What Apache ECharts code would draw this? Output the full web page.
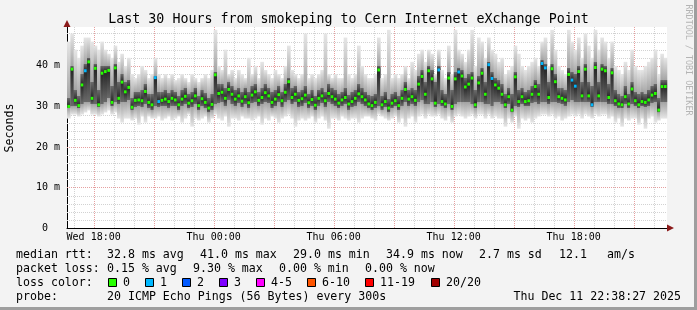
<!DOCTYPE html>
<html><head><meta charset="utf-8">
<script src="https://cdn.jsdelivr.net/npm/echarts@6/dist/echarts.min.js"></script>
<style>html,body{margin:0;padding:0;background:#f3f3f3}#c{width:697px;height:310px}</style>
</head><body><div id="c"></div>
<script>
// time axis in minutes since Wed 00:00
const T_START = 1000;   // Wed 16:40
const T_END = 2800;     // Thu 22:40
const STEP = 10;        // minutes per sample
const xLabelValues = [1080, 1440, 1800, 2160, 2520];
const xLabelTexts = ['Wed 18:00', 'Thu 00:00', 'Thu 06:00', 'Thu 12:00', 'Thu 18:00'];
const yLabelValues = [0, 10, 20, 30, 40];
const yLabelTexts = ['0  ', '10 m', '20 m', '30 m', '40 m'];
const Y_MAX = 49.6;

// median rtt (ms)
const median = [
30.0,39.2,31.5,30.2,35.3,38.8,41.0,32.0,39.4,30.4,
38.2,38.6,38.9,31.0,39.5,32.0,36.0,33.6,34.7,29.8,
31.5,31.6,31.4,33.7,31.0,30.4,37.1,31.2,31.5,31.8,
31.2,32.0,31.6,30.4,31.8,32.5,30.8,31.4,32.6,30.2,
31.9,31.0,29.6,30.5,37.8,33.2,33.5,32.0,34.2,33.0,
31.8,32.6,31.3,32.4,30.9,32.8,33.6,31.5,32.2,33.4,
32.6,31.0,31.8,32.9,31.4,33.5,36.1,32.2,33.0,31.5,
31.9,32.8,30.9,31.7,30.3,32.0,32.6,31.4,33.2,32.4,
31.8,30.8,31.6,32.2,30.6,31.2,32.0,33.1,32.4,31.6,
30.6,30.2,31.0,39.0,30.4,31.2,29.6,30.8,31.4,30.2,
32.0,34.2,31.8,32.4,31.5,35.5,37.4,33.0,38.8,36.8,
30.8,39.0,31.2,30.6,37.0,30.0,36.8,38.5,37.5,34.8,
35.5,37.0,30.4,35.8,38.2,33.0,40.3,36.9,35.3,34.5,
33.0,30.4,32.4,29.1,37.3,31.2,32.4,31.2,31.4,33.0,
34.9,33.0,40.6,39.5,32.2,39.3,36.1,32.4,32.0,31.6,
37.9,36.5,35.0,38.6,32.6,39.2,32.6,30.4,39.6,32.6,
39.2,38.8,32.2,38.3,31.4,30.6,30.4,32.4,30.6,34.3,
31.4,30.4,31.2,31.0,31.6,32.8,33.2,29.1,34.9,34.9];

// smoke: highest / lowest ping (ms)
const smokeHi = [
46,48,44,42,45,47,47,46,45,44,
46,44,43,42,45,41,43,40,42,38,
37,38,40,39,37,38,42,38,37,38,
37,38,36.5,37,38,37,36,38,37,36,
37,38,37,39,48.9,40,39,44,38,39,
37,39,38,37,42,38,40,37,41,39,
38,37,39,38,37,40,45,39,38,37,
38,48,37,38,37,38,39,48,38,37,
38,37,37,47,38,37,38,45,40,38,
37,37,38,47,37,38,48.9,37,38,37,
38,40,37,41,39,43,44,41,44,43,
38,44,39,37,45,38,48.9,44,43,41,
44,48.9,40,47,46,42,47,44,43,41,
42,38,39,40,45,43,40,39,40,41,
42,40,46,47,40,48.9,44,40,39,38,
48.9,46,44,47,42,48,45,42,48.9,44,
47,46,42,46,40,39,38,41,39,44,
40,39,39,40,41,42,44,38,43,42];
const smokeLo = [
27,28,28,27.5,28,28.5,29,28,28,27.5,
28,28.5,29,28,28.5,27,26,27,27,26.5,
27,25.5,27.5,26,27.5,27,27,27.5,26.5,27,
27.5,26.5,27,27.5,26,27,28,25,27,26.5,
27,27.5,26,27,28,27,26.5,27.5,25,27,
27,26.5,27.5,27,27,26.5,27,27.5,25.5,27,
26.5,27.5,27,26,27,27.5,28,27,25,26.5,
27,26.5,27,27.5,26,27,27.5,26.5,24.5,27,
27,26.5,27.5,27,26.5,27,27,26,27,27.5,
27.5,27,26.5,28,27.5,27,26.5,27,27.5,26,
27,25,27,27.5,26,27.5,28,27,28,27.5,
27.5,28,27,26.5,27.5,26,27.5,28,27.5,27,
27.5,28,27,28,28,27,28,27,27.5,27,
27,25,27,26,27.5,24.5,27,26.5,27,26,
27,27.5,28,28,27.5,28,27,27.5,26.5,27,
27.5,28,27.5,28,27,28,27.5,27,28,27.5,
28,28,27,27.5,26,27,25,27,26.5,27,
27,25.5,27,24.5,27,27.5,26,26.5,27,27];
// dense inner part of the smoke (ms)
const innerLo = [
29.5,30,30,29.5,30.5,31,31,30.5,30.5,29.8,
30.5,31,32,30,31,30.5,31,31,31.5,29,
29.8,30,29.8,30.5,29.5,29,30,29.8,30,30,
29.6,30.2,30,29,30,30.5,29.5,29.8,30.5,29,
30,29.5,28.5,29,30.5,30.8,31,30.2,31.5,30.5,
30,30.8,29.8,30.5,29.5,30.8,31,30,30.5,31,
30.8,29.5,30,31,29.8,31,31.5,30.5,31,29.8,
30,30.8,29.5,30,29,30.2,30.8,29.8,31,30.5,
30,29.5,30,30.5,29.2,29.8,30.2,31,30.5,30,
29.5,29,29.6,30,29.2,29.8,28.5,29.5,30,29,
30.2,31,30,30.5,30,31,31.5,30.5,30.5,31,
29.8,30.5,30,29.5,30.5,29,30.5,31,31,31,
31,30.5,29.5,31,31,30.5,30.5,30,31,31,
30.5,29.5,30.5,28.5,30,29.8,30.5,30,30,30.8,
31,30.5,31,31,30.5,31,31,30.8,30.5,30.2,
31,31.5,31,31,31,31,31,29.8,31,31,
31,31,30.5,30.5,30,29.6,29.5,30.5,29.6,30.5,
30,29.5,30,29.8,30,30.8,31,28.5,31,31];
const innerHi = [
32,40,34,32.5,38,40.5,42,36,40.5,34,
40,40,40,35,40.5,36,38,36,36.5,32,
33.5,33.5,34,35.5,33,33,37.5,33.5,33.5,34,
33.2,34,33.5,32.5,34,34.5,33,33.5,34.5,32.5,
34,33.2,32,33,38.5,35.5,35.5,34.5,36,35,
34,34.5,33.5,34.5,33.5,35,35.5,33.5,34.5,35.5,
34.5,33.5,34,35,33.5,35.5,37,34.5,35,33.5,
34,35,33,34,32.5,34,34.5,33.5,35.5,34.5,
34,33,33.5,34.5,32.8,33.5,34,35.5,34.5,33.5,
32.8,32.5,33,40,32.5,33.5,31.8,33,33.5,32.5,
34,36,34,34.5,34,37.5,39,36,40,39,
36,40,34,33,38.5,34,38.5,39.5,39,37,
38,38.5,34,37.5,39.5,36,41,38.5,37,36.5,
35.5,33,34.5,33,38.5,34,34.5,33.5,34,35,
36.5,35.5,41.5,40.5,36,40.5,38,34.5,34.5,34,
39.5,38.5,38,40,36,40.5,36,35,41,36,
40.5,40,35.5,39.5,34,33,32.5,35,33,36,
33.5,33,33.5,33,34,35,35.5,32,36.5,36.5];
// samples that lost 1 of 20 pings
const loss1Samples = [5, 26, 27, 111, 117, 126, 127, 142, 143, 151, 152, 157];

const lossLabels = ['0', '1', '2', '3', '4-5', '6-10', '11-19', '20/20'];
const lossColors = ['#26ff00', '#00b8ff', '#0059ff', '#7e00ff', '#ff00ff', '#ff5500', '#ff0000', '#a10000'];

const titleText = 'Last 30 Hours from smokeping to Cern Internet eXchange Point';
const legendRows = [
  ['median rtt:', '32.8 ms avg', '41.0 ms max', '29.0 ms min', '34.9 ms now', '2.7 ms sd', '12.1', 'am/s'],
  ['packet loss:', '0.15 % avg', '9.30 % max', '0.00 % min', '0.00 % now'],
  ['loss color:'],
  ['probe:', '20 ICMP Echo Pings (56 Bytes) every 300s']
];
const stampText = 'Thu Dec 11 22:38:27 2025';

// layout (pixels)
const MONO = '"DejaVu Sans Mono", monospace';
const G = { left: 67, right: 30, top: 27, bottom: 82 };
const W = 697, H = 310;
const plotR = W - G.right, plotB = H - G.bottom;
const legendX = [
  [16, 107, 200, 293, 386, 479, 559, 607],
  [16, 107, 193, 279, 365],
  [16],
  [16, 107]
];
const legendY = [254.5, 268.5, 282.5, 296.5];
const boxX = [108.5, 145.5, 182.5, 219.5, 256.5, 307.5, 365.5, 431.5];

// grid tick values
const hourTicks = [];
for (let t = Math.ceil(T_START / 60) * 60; t < T_END; t += 60) hourTicks.push(t);
const msTicks = [];
for (let v = 2; v < Y_MAX; v += 2) msTicks.push(v);

const smokeData = median.map((m, i) => [T_START + i * STEP, smokeLo[i], smokeHi[i], innerLo[i], innerHi[i], m]);
const medData = median.map((m, i) => [T_START + i * STEP, m, loss1Samples.indexOf(i) >= 0 ? 1 : 0]);

function vGrid(params, api) {
  const cs = params.coordSys;
  const t = api.value(0);
  const x = Math.round(api.coord([t, 0])[0]) + 0.5;
  const major = (t / 60) % 3 === 0;
  return { type: 'line', shape: { x1: x, y1: cs.y, x2: x, y2: cs.y + cs.height },
    style: { stroke: major ? '#e6a0a0' : '#d2d2d2', lineWidth: 1, lineDash: [1, 1] }, silent: true };
}
function hGrid(params, api) {
  const cs = params.coordSys;
  const v = api.value(1);
  const y = Math.round(api.coord([T_START, v])[1]) + 0.5;
  const major = v % 10 === 0;
  return { type: 'line', shape: { x1: cs.x, y1: y, x2: cs.x + cs.width, y2: y },
    style: { stroke: major ? '#e6a0a0' : '#d2d2d2', lineWidth: 1, lineDash: [1, 1] }, silent: true };
}
function clamp01(v) { return Math.max(0, Math.min(1, v)); }
function smokeItem(params, api) {
  const t = api.value(0);
  const xa = api.coord([t, 0])[0], xb = api.coord([t + STEP, 0])[0];
  const yLo = api.coord([t, api.value(1)])[1];
  const yHi = api.coord([t, api.value(2)])[1];
  const yILo = api.coord([t, api.value(3)])[1];
  const yIHi = api.coord([t, api.value(4)])[1];
  const yMed = api.coord([t, api.value(5)])[1];
  const h = yLo - yHi;
  const o1 = clamp01((yIHi - yHi) / h);
  const o2 = clamp01((yILo - yHi) / h);
  const om = clamp01((yMed - yHi) / h);
  return { type: 'rect', shape: { x: xa, y: yHi, width: xb - xa + 0.3, height: h },
    style: { fill: new echarts.graphic.LinearGradient(0, 0, 0, 1, [
      { offset: 0, color: '#e6e6e6' },
      { offset: o1, color: '#a4a4a4' },
      { offset: Math.min(om, o1 + 0.001), color: '#6a6a6a' },
      { offset: om, color: '#262626' },
      { offset: Math.max(om, o2 - 0.001), color: '#6a6a6a' },
      { offset: o2, color: '#a4a4a4' },
      { offset: 1, color: '#e6e6e6' }]) }, silent: true };
}
function medItem(params, api) {
  const t = api.value(0);
  const xa = api.coord([t, 0])[0], xb = api.coord([t + STEP, 0])[0];
  const y = api.coord([t, api.value(1)])[1];
  const w = 2.6;
  return { type: 'rect', shape: { x: (xa + xb) / 2 - w / 2, y: y - 1.5, width: w, height: 3 },
    style: { fill: lossColors[api.value(2)] }, silent: true };
}

const chart = echarts.init(document.getElementById('c'), null, { renderer: 'canvas' });

const graphics = [
  { type: 'rect', shape: { x: 0, y: 0, width: W, height: H }, style: { fill: '#f3f3f3' }, z: -10, silent: true },
  { type: 'rect', shape: { x: W - 3, y: 0, width: 3, height: H }, style: { fill: '#9e9e9e' }, silent: true },
  { type: 'rect', shape: { x: 0, y: H - 3, width: W, height: 3 }, style: { fill: '#9e9e9e' }, silent: true },
  { type: 'rect', shape: { x: G.left, y: G.top, width: plotR - G.left, height: plotB - G.top }, style: { fill: '#ffffff' }, z: -5, silent: true },
  { type: 'text', x: W / 2, y: 19.5, style: { text: titleText, font: '13.3px ' + MONO, fill: '#000', align: 'center', verticalAlign: 'middle' } },
  { type: 'text', x: 10, y: 128, rotation: Math.PI / 2, style: { text: 'Seconds', font: '11.6px ' + MONO, fill: '#000', align: 'center', verticalAlign: 'middle' } },
  { type: 'text', x: 688.5, y: 60, rotation: -Math.PI / 2, style: { text: 'RRDTOOL / TOBI OETIKER', font: '8.4px ' + MONO, fill: '#b4b4b4', align: 'center', verticalAlign: 'middle' } },
  // axis arrows
  { type: 'polygon', shape: { points: [[63.5, 27], [70.5, 27], [67, 20]] }, style: { fill: '#8b1a1a' }, z: 50 },
  { type: 'polygon', shape: { points: [[667, 224.5], [667, 231.5], [674, 228]] }, style: { fill: '#8b1a1a' }, z: 50 },
  { type: 'text', x: 681, y: legendY[3], style: { text: stampText, font: '11.6px ' + MONO, fill: '#000', align: 'right', verticalAlign: 'middle' } }
];
legendRows.forEach((row, r) => {
  row.forEach((txt, k) => {
    graphics.push({ type: 'text', x: legendX[r][k], y: legendY[r], style: { text: txt, font: '11.6px ' + MONO, fill: '#000', verticalAlign: 'middle' } });
  });
});
lossLabels.forEach((lab, k) => {
  graphics.push({ type: 'rect', shape: { x: boxX[k], y: 278.5, width: 8, height: 8 }, style: { fill: lossColors[k], stroke: '#000', lineWidth: 1 } });
  graphics.push({ type: 'text', x: boxX[k] + 14.5, y: legendY[2], style: { text: lab, font: '11.6px ' + MONO, fill: '#000', verticalAlign: 'middle' } });
});

chart.setOption({
  animation: false,
  backgroundColor: '#f3f3f3',
  grid: G,
  xAxis: {
    type: 'value', min: T_START, max: T_END,
    splitLine: { show: false },
    axisLine: { show: true, lineStyle: { color: '#000', width: 1 } },
    axisTick: { show: false },
    axisLabel: { customValues: xLabelValues, formatter: v => xLabelTexts[xLabelValues.indexOf(v)] || '',
      fontFamily: MONO, fontSize: 10, color: '#000', margin: 4 }
  },
  yAxis: {
    type: 'value', min: 0, max: Y_MAX,
    splitLine: { show: false },
    axisLine: { show: true, lineStyle: { color: '#000', width: 1 } },
    axisTick: { show: false },
    axisLabel: { customValues: yLabelValues, formatter: v => yLabelTexts[yLabelValues.indexOf(v)] || '',
      fontFamily: MONO, fontSize: 10, color: '#000', margin: 7 }
  },
  graphic: graphics,
  series: [
    { type: 'custom', name: 'vgrid', data: hourTicks.map(t => [t, 0]), renderItem: vGrid, encode: { x: 0, y: 1 }, z: 1, silent: true },
    { type: 'custom', name: 'hgrid', data: msTicks.map(v => [T_START, v]), renderItem: hGrid, encode: { x: 0, y: 1 }, z: 1, silent: true },
    { type: 'custom', name: 'smoke', data: smokeData, renderItem: smokeItem, encode: { x: 0, y: [1, 2] }, z: 2, silent: true },
    { type: 'custom', name: 'median', data: medData, renderItem: medItem, encode: { x: 0, y: 1 }, z: 3, silent: true }
  ]
});
</script></body></html>
